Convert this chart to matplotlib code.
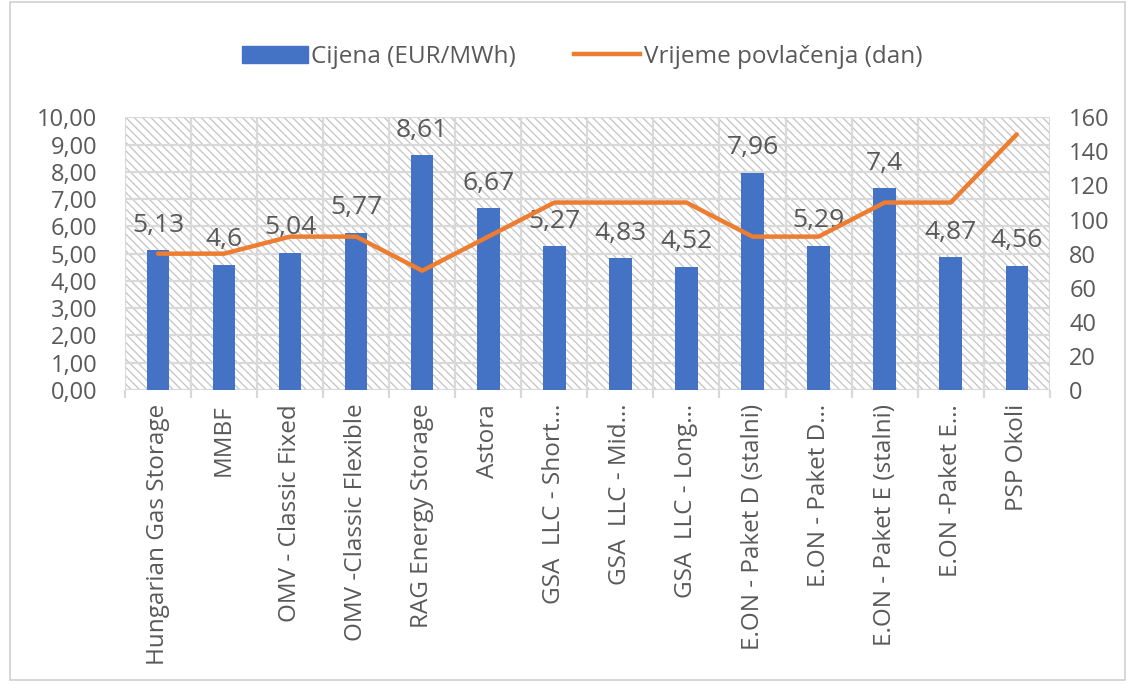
import matplotlib
matplotlib.use("Agg")
import matplotlib.pyplot as plt
from matplotlib.patches import Rectangle
from matplotlib.lines import Line2D
from matplotlib.ticker import FixedLocator
import numpy as np

plt.rcParams['font.family'] = ['Open Sans', 'DejaVu Sans']
plt.rcParams['hatch.color'] = '#c4c4c4'
plt.rcParams['hatch.linewidth'] = 0.9

categories = ["Hungarian Gas Storage", "MMBF", "OMV - Classic Fixed", "OMV -Classic Flexible",
              "RAG Energy Storage", "Astora", "GSA  LLC - Short\u2026", "GSA  LLC - Mid\u2026",
              "GSA  LLC - Long\u2026", "E.ON - Paket D (stalni)", "E.ON - Paket D\u2026",
              "E.ON - Paket E (stalni)", "E.ON -Paket E\u2026", "PSP Okoli"]
price = [5.13, 4.6, 5.04, 5.77, 8.61, 6.67, 5.27, 4.83, 4.52, 7.96, 5.29, 7.4, 4.87, 4.56]
price_labels = ["5,13", "4,6", "5,04", "5,77", "8,61", "6,67", "5,27", "4,83", "4,52",
                "7,96", "5,29", "7,4", "4,87", "4,56"]
days = [80, 80, 90, 90, 70, 90, 110, 110, 110, 90, 90, 110, 110, 150]
left_ticks = list(range(0, 11))
right_ticks = list(range(0, 161, 20))

BLUE = '#4472C4'
ORANGE = '#ED7D31'
GRAY = '#595959'
GRID = '#d9d9d9'

fig = plt.figure(figsize=(11.3, 6.85), dpi=100)
ax = fig.add_axes([0.1106, 0.4307, 0.8184, 0.398])
x = np.arange(len(categories))

# hatched background
bg = Rectangle((0, 0), 1, 1, transform=ax.transAxes, facecolor='white',
               edgecolor='#c4c4c4', hatch='\\\\\\\\', linewidth=0, zorder=0)
ax.add_patch(bg)

ax.set_xlim(-0.5, len(categories) - 0.5)
ax.set_ylim(0, 10)
ax.set_yticks(left_ticks)
ax.set_yticklabels([f"{v},00" for v in left_ticks])
for v in left_ticks:
    ax.axhline(v, color=GRID, lw=1.6, zorder=1)
for b in np.arange(-0.5, len(categories) + 0.5, 1):
    ax.axvline(b, color=GRID, lw=1.6, zorder=1)

ax.bar(x, price, width=0.34, color=BLUE, zorder=3)
for xi, v, lab in zip(x, price, price_labels):
    ax.annotate(lab, (xi, v), xytext=(0, 9), textcoords='offset points',
                ha='center', va='bottom', fontsize=19, color=GRAY, zorder=6)

ax.set_xticks(x)
ax.set_xticklabels(categories, rotation=90, fontsize=17.5, color=GRAY)
ax.xaxis.set_minor_locator(FixedLocator(np.arange(-0.5, len(categories) + 0.5, 1)))
ax.tick_params(axis='x', which='major', length=0, pad=10)
ax.tick_params(axis='x', which='minor', length=6, color=GRID, width=1.6)
ax.tick_params(axis='y', length=0, labelsize=17, labelcolor=GRAY, pad=20)
for s in ax.spines.values():
    s.set_visible(False)

ax2 = ax.twinx()
ax2.set_ylim(0, 160)
ax2.set_yticks(right_ticks)
ax2.tick_params(axis='y', length=0, labelsize=17, labelcolor=GRAY, pad=14)
ax2.plot(x, days, color=ORANGE, lw=3.2, solid_capstyle='round', solid_joinstyle='round', zorder=5)
for s in ax2.spines.values():
    s.set_visible(False)

# legend
handles = [Rectangle((0, 0), 1, 1, color=BLUE), Line2D([0], [0], color=ORANGE, lw=3.2)]
fig.legend(handles, ["Cijena (EUR/MWh)", "Vrijeme povla\u010denja (dan)"], loc='center',
           bbox_to_anchor=(0.515, 0.917), ncol=2, frameon=False, fontsize=17.5,
           labelcolor=GRAY, handlelength=2.7, handletextpad=0.15, columnspacing=2.4)

# outer frame
fig.add_artist(Rectangle((10 / 1130, 5 / 685), 1115 / 1130, 678 / 685, transform=fig.transFigure,
                         fill=False, edgecolor='#d0d0d0', lw=1.2))

fig.savefig('out.png', dpi=100)
